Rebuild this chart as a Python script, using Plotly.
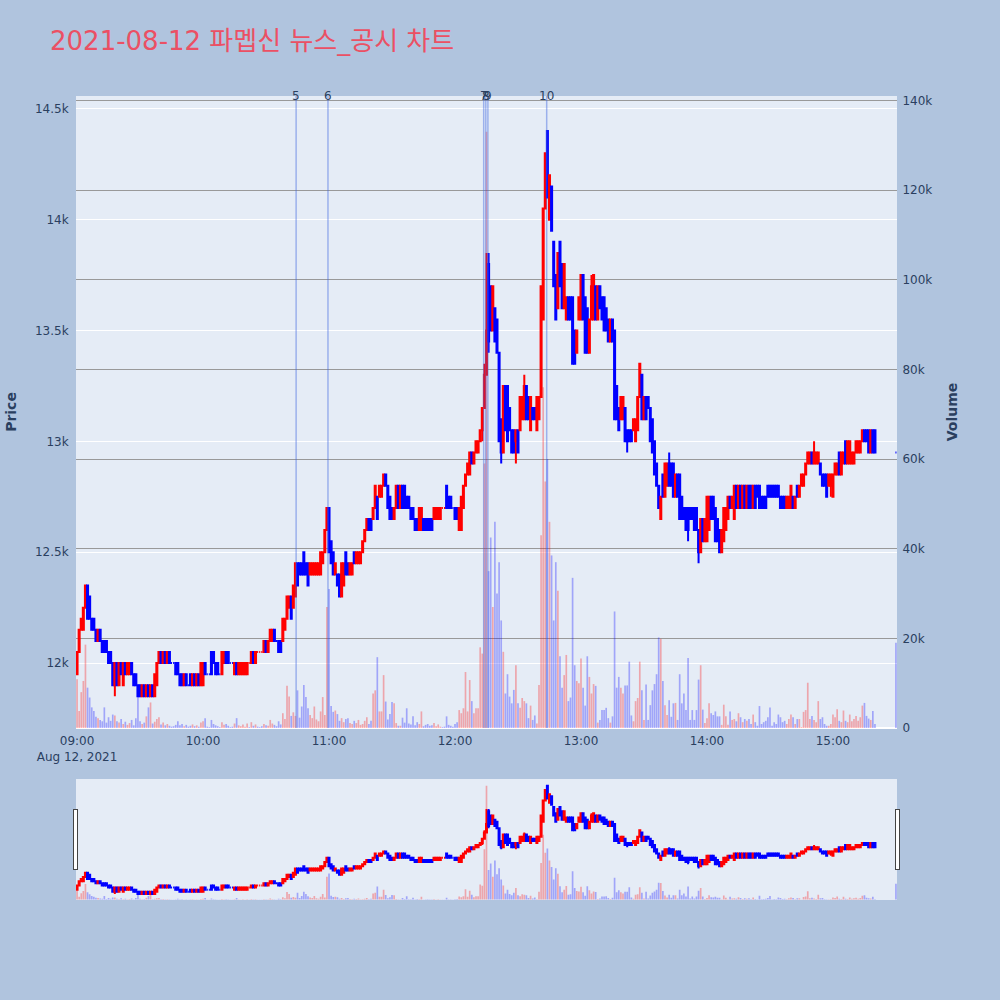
import pandas as pd
import plotly.graph_objects as go
from plotly.subplots import make_subplots

# minutes after 09:00 for each 1-minute candle (15:20-15:29 no trades, 15:30 closing auction)
minute_offsets = list(range(0, 381)) + [390]

open_ = [
    11950,12050,12150,12150,12250,12350,12300,12200,12200,12150,
    12100,12150,12100,12100,12100,12050,12050,12000,11900,12000,
    11900,12000,11900,12000,11950,11950,12000,11950,11950,11900,
    11900,11850,11900,11850,11900,11850,11900,11850,11900,12000,
    12050,12000,12050,12000,12050,12000,12000,12000,12000,11950,
    11950,11900,11950,11900,11950,11900,11950,11900,11950,11900,
    11900,12000,11950,11950,12050,12050,12000,12000,11950,11950,
    12000,12050,12050,12000,12000,11950,12000,11950,11950,11950,
    11950,11950,12000,12000,12050,12000,12050,12050,12050,12050,
    12100,12050,12100,12100,12150,12100,12100,12100,12100,12150,
    12200,12250,12300,12250,12300,12450,12450,12450,12500,12450,
    12450,12400,12400,12400,12400,12400,12400,12450,12500,12600,
    12700,12550,12500,12400,12400,12400,12300,12350,12500,12450,
    12400,12400,12500,12450,12450,12450,12500,12550,12600,12650,
    12650,12650,12700,12750,12750,12750,12800,12850,12800,12750,
    12700,12650,12700,12800,12700,12800,12800,12750,12750,12700,
    12700,12650,12650,12600,12600,12650,12650,12650,12650,12650,
    12650,12650,12650,12650,12700,12700,12800,12750,12750,12700,
    12700,12700,12600,12600,12700,12800,12850,12850,12950,12900,
    12950,12950,13000,13050,13150,13300,13800,13700,13500,13600,
    13550,13400,13100,12950,13250,13250,13150,13050,13050,13000,
    13050,13050,13100,13100,13250,13200,13050,13150,13150,13050,
    13100,13200,13550,14050,14400,14000,14150,13900,13750,13600,
    13900,13800,13600,13550,13650,13650,13650,13500,13400,13550,
    13550,13750,13650,13600,13400,13550,13550,13700,13550,13700,
    13650,13650,13600,13550,13450,13550,13500,13250,13150,13100,
    13100,13150,13050,13050,13050,13050,13000,13050,13200,13300,
    13100,13200,13200,13150,13100,13000,12900,12800,12650,12850,
    12750,12800,12900,12900,12900,12750,12850,12850,12750,12700,
    12700,12700,12700,12700,12700,12700,12600,12500,12650,12550,
    12550,12600,12750,12750,12700,12650,12600,12500,12550,12600,
    12650,12750,12700,12650,12800,12700,12800,12700,12800,12700,
    12800,12800,12700,12800,12800,12800,12750,12750,12750,12800,
    12800,12800,12800,12800,12800,12750,12750,12750,12700,12700,
    12700,12750,12700,12800,12750,12800,12800,12850,12900,12900,
    12950,12900,12900,12900,12900,12850,12850,12850,12800,12800,
    12750,12850,12850,12950,12850,12900,13000,12900,12900,12900,
    12900,12950,12950,12950,13000,13050,13050,13050,12950,13050,13050,
    12950,
]

high = [
    12050,12150,12200,12250,12350,12350,12300,12200,12200,12150,
    12150,12150,12100,12100,12100,12050,12050,12000,12000,12000,
    12000,12000,12000,12000,12000,12000,12000,11950,11950,11900,
    11900,11900,11900,11900,11900,11900,11900,11950,12000,12050,
    12050,12050,12050,12050,12050,12000,12000,12000,12000,11950,
    11950,11950,11950,11900,11950,11950,11950,11950,11950,12000,
    12000,12000,11950,11950,12050,12050,12000,12000,11950,12050,
    12050,12050,12050,12000,12000,12000,12000,12000,12000,12000,
    12000,12000,12000,12050,12050,12050,12050,12050,12050,12100,
    12100,12100,12150,12150,12150,12100,12100,12100,12200,12200,
    12300,12300,12300,12350,12450,12450,12450,12450,12500,12450,
    12450,12450,12450,12450,12450,12450,12500,12500,12600,12700,
    12700,12550,12500,12450,12400,12400,12450,12450,12500,12450,
    12450,12450,12500,12500,12500,12500,12550,12600,12650,12650,
    12650,12700,12800,12750,12800,12800,12850,12850,12800,12750,
    12700,12700,12800,12800,12800,12800,12800,12750,12750,12700,
    12700,12650,12650,12700,12700,12650,12650,12650,12650,12650,
    12700,12700,12700,12700,12700,12700,12800,12750,12750,12700,
    12700,12700,12700,12750,12800,12850,12900,12950,12950,12950,
    13000,13000,13050,13150,13350,13850,13850,13700,13700,13600,
    13550,13400,13100,13250,13250,13250,13150,13050,13050,13050,
    13050,13200,13200,13300,13250,13200,13200,13150,13150,13200,
    13200,13700,14050,14300,14400,14200,14150,13900,13750,13850,
    13900,13800,13800,13650,13650,13650,13650,13500,13500,13650,
    13750,13750,13650,13600,13550,13750,13750,13700,13700,13700,
    13650,13650,13600,13550,13550,13550,13500,13250,13150,13200,
    13200,13150,13050,13050,13050,13100,13100,13200,13350,13300,
    13200,13200,13200,13150,13100,13000,12900,12800,12750,12850,
    12900,12900,12950,12900,12900,12850,12850,12850,12750,12700,
    12700,12700,12700,12700,12700,12700,12600,12650,12650,12650,
    12750,12750,12750,12750,12700,12650,12600,12600,12700,12700,
    12750,12750,12750,12800,12800,12800,12800,12800,12800,12800,
    12800,12800,12800,12800,12800,12800,12750,12750,12750,12800,
    12800,12800,12800,12800,12800,12750,12750,12750,12750,12750,
    12800,12750,12750,12800,12800,12850,12850,12900,12950,12950,
    12950,13000,12950,12950,12900,12850,12850,12850,12850,12850,
    12850,12900,12900,12950,12950,12950,13000,13000,13000,12950,
    12950,13000,13000,13000,13050,13050,13050,13050,13050,13050,13050,
    12950,
]

low = [
    11950,12050,12150,12150,12250,12200,12200,12150,12150,12100,
    12100,12100,12050,12050,12050,12000,12000,11900,11850,11900,
    11900,11950,11900,11950,11950,11950,11950,11900,11900,11850,
    11850,11850,11850,11850,11850,11850,11850,11850,11900,12000,
    12000,12000,12000,12000,12000,12000,12000,11950,11950,11900,
    11900,11900,11900,11900,11900,11900,11900,11900,11900,11900,
    11900,11950,11950,11950,11950,12000,11950,11950,11950,11950,
    12000,12000,12000,12000,12000,11950,11950,11950,11950,11950,
    11950,11950,12000,12000,12000,12000,12050,12050,12050,12050,
    12050,12050,12100,12100,12100,12100,12050,12050,12100,12150,
    12200,12250,12200,12250,12300,12350,12400,12400,12400,12400,
    12350,12400,12400,12400,12400,12400,12400,12450,12500,12600,
    12500,12450,12400,12400,12350,12300,12300,12350,12400,12400,
    12400,12400,12450,12450,12450,12450,12500,12550,12600,12600,
    12600,12650,12700,12650,12750,12750,12800,12800,12700,12650,
    12650,12650,12700,12700,12700,12700,12700,12700,12700,12650,
    12650,12600,12600,12600,12600,12600,12600,12600,12600,12600,
    12650,12650,12650,12650,12700,12700,12700,12700,12700,12700,
    12650,12650,12600,12600,12700,12800,12850,12850,12900,12900,
    12950,12950,13000,13000,13150,13300,13400,13500,13500,13450,
    13400,13000,12900,12950,13050,13000,13050,12950,12950,12900,
    12950,13050,13100,13100,13100,13100,13050,13100,13100,13050,
    13100,13200,13550,14050,14100,14000,13950,13700,13550,13600,
    13700,13600,13600,13550,13550,13550,13350,13350,13400,13550,
    13550,13550,13400,13400,13400,13550,13550,13550,13550,13600,
    13550,13500,13500,13450,13450,13450,13100,13100,13050,13100,
    13100,13000,12950,13000,13000,13050,13000,13050,13200,13100,
    13100,13100,13150,13000,12950,12850,12800,12700,12650,12750,
    12750,12800,12800,12800,12750,12750,12750,12650,12650,12650,
    12600,12550,12650,12650,12600,12600,12450,12500,12550,12550,
    12550,12600,12650,12650,12550,12550,12500,12500,12550,12600,
    12650,12700,12700,12650,12700,12700,12700,12700,12700,12700,
    12700,12700,12700,12700,12750,12700,12700,12700,12700,12750,
    12750,12750,12750,12750,12750,12700,12700,12700,12700,12700,
    12700,12700,12700,12750,12750,12800,12800,12850,12900,12900,
    12900,12900,12900,12900,12850,12800,12800,12750,12800,12750,
    12750,12850,12850,12850,12850,12900,12900,12900,12900,12900,
    12900,12950,12950,12950,13000,13000,13000,12950,12950,12950,12950,
    12950,
]

close = [
    12050,12150,12200,12250,12350,12200,12200,12150,12150,12100,
    12150,12100,12050,12050,12050,12000,12000,11900,12000,11900,
    12000,11950,12000,11950,12000,12000,11950,11900,11900,11850,
    11850,11900,11850,11900,11850,11900,11850,11950,12000,12050,
    12000,12050,12000,12050,12000,12000,12000,11950,11950,11900,
    11900,11950,11900,11900,11900,11950,11900,11950,11900,12000,
    12000,11950,11950,11950,11950,12000,11950,11950,11950,12050,
    12050,12000,12000,12000,12000,12000,11950,12000,12000,12000,
    12000,12000,12000,12050,12000,12050,12050,12050,12050,12100,
    12050,12100,12150,12150,12100,12100,12050,12050,12200,12200,
    12300,12300,12200,12350,12450,12350,12400,12400,12400,12400,
    12350,12450,12450,12450,12450,12450,12500,12500,12600,12700,
    12500,12450,12400,12450,12350,12300,12450,12450,12400,12400,
    12450,12450,12450,12500,12500,12500,12550,12600,12650,12600,
    12600,12700,12800,12650,12800,12800,12850,12800,12700,12650,
    12650,12700,12800,12700,12800,12700,12700,12700,12700,12650,
    12650,12600,12600,12700,12700,12600,12600,12600,12600,12600,
    12700,12700,12700,12700,12700,12700,12700,12700,12700,12700,
    12650,12650,12700,12750,12800,12850,12900,12950,12900,12950,
    13000,13000,13050,13150,13300,13500,13450,13500,13700,13450,
    13400,13000,12950,13250,13050,13000,13050,12950,12950,13050,
    12950,13200,13200,13250,13100,13100,13200,13100,13100,13200,
    13200,13700,14050,14300,14100,14200,13950,13700,13550,13850,
    13700,13600,13800,13650,13550,13550,13350,13350,13500,13650,
    13750,13550,13400,13400,13550,13700,13750,13550,13700,13600,
    13550,13500,13500,13450,13550,13450,13100,13100,13050,13200,
    13200,13000,13000,13000,13000,13100,13100,13200,13350,13100,
    13200,13100,13150,13000,12950,12850,12800,12700,12750,12750,
    12900,12900,12800,12800,12750,12850,12750,12650,12650,12650,
    12600,12600,12650,12650,12600,12600,12500,12650,12550,12650,
    12750,12750,12650,12650,12550,12550,12500,12600,12700,12700,
    12750,12700,12750,12800,12700,12800,12700,12800,12700,12800,
    12700,12700,12800,12700,12750,12700,12700,12700,12700,12750,
    12750,12750,12750,12750,12750,12700,12700,12700,12750,12750,
    12800,12700,12750,12750,12800,12850,12850,12900,12950,12950,
    12900,12950,12950,12950,12850,12800,12800,12750,12850,12850,
    12850,12900,12900,12850,12950,12950,12900,13000,13000,12950,
    12950,13000,13000,13000,13050,13000,13000,12950,13050,12950,12950,
    12950,
]

volume = [
    10900,3800,8000,10500,18600,9000,6800,4600,3800,2500,
    2200,1800,1500,4600,1200,2400,1600,3000,2800,1500,
    1200,2000,900,1400,700,1100,1800,600,2200,8000,
    1500,900,1200,2600,4600,5700,1000,1400,2000,2400,
    800,1200,600,900,500,300,400,700,1500,600,
    900,400,700,300,500,800,400,600,300,1200,
    1500,2200,300,200,1800,900,600,400,200,1300,
    700,900,500,200,300,1000,2200,600,400,800,
    300,1000,200,1300,500,800,300,200,400,900,
    600,500,1800,1000,700,400,1500,800,3300,2000,
    9400,7000,2700,3500,2700,8400,2300,4800,9600,6900,
    4400,2900,2200,4800,1900,1500,3700,6900,2900,27000,
    31000,4900,3600,3900,3100,1600,2200,1300,2000,2200,
    1100,900,1600,1100,1800,700,900,1600,2400,900,
    1600,7700,8400,15800,3700,3700,11800,5900,1900,3100,
    5800,5500,1100,500,500,2300,1200,4400,1000,800,
    2600,600,1300,900,3700,400,700,900,500,600,
    1100,400,800,300,200,300,2600,700,500,300,
    900,1300,4000,3300,4400,12500,3700,10700,6000,3300,
    4400,4400,18000,16600,59000,133000,35000,42500,27000,46000,
    30000,37000,24000,17000,7700,12000,7000,5500,8500,14000,
    5500,4500,6700,6000,5500,2200,5000,1800,2800,1000,
    9600,43000,76000,55000,60000,46000,38500,24000,37000,30600,
    16000,9000,11800,16300,6000,6800,33500,14000,10500,10000,
    15500,9000,5000,16000,11400,7700,9800,9400,1200,1800,
    4000,4000,4500,2200,1200,2600,26000,9000,11400,9000,
    7700,9500,9500,14800,2800,1500,6000,6700,14800,8400,
    1800,9700,1800,5100,8400,9800,12000,20200,19900,10500,
    5100,2900,6200,2500,5500,5600,1800,12000,5500,7700,
    4000,15600,1800,4000,1800,4000,10800,14000,4100,1100,
    2200,5500,3300,2900,3700,2600,2600,700,5200,2600,
    700,3700,1800,2000,1500,3300,2400,1300,2000,1600,
    2000,900,3000,1300,500,4900,900,1300,1600,2400,
    4600,500,1300,900,3000,2400,1300,1600,900,2000,
    3000,2400,900,2000,2000,200,3600,4000,10100,2000,
    2700,1800,1300,6000,2000,2400,900,500,500,900,
    3000,2400,4200,1600,1300,3900,1600,1300,3000,1500,
    2000,2700,1600,2400,5000,5600,2700,2100,1800,3800,900,
    19000,
]

event_labels = ["5", "6", "7", "8", "9", "10"]
event_times = [
    "2021-08-12 10:44:20", "2021-08-12 10:59:30", "2021-08-12 12:13:40",
    "2021-08-12 12:14:40", "2021-08-12 12:15:40", "2021-08-12 12:43:40",
]

title_text = "2021-08-12 파멥신 뉴스_공시 차트"

times = pd.Timestamp("2021-08-12 09:00") + pd.to_timedelta(minute_offsets, unit="min")
vol_colors = ["rgba(255,0,0,0.3)" if c > o else "rgba(0,0,255,0.3)" for o, c in zip(open_, close)]

FONT = "DejaVu Sans, Noto Sans CJK KR, sans-serif"
CLEAR = "rgba(0,0,0,0)"

fig = make_subplots(specs=[[{"secondary_y": True}]])
fig.add_trace(go.Candlestick(
    x=times, open=open_, high=high, low=low, close=close, name="Price",
    increasing=dict(line=dict(color="red", width=2), fillcolor="red"),
    decreasing=dict(line=dict(color="blue", width=2), fillcolor="blue"),
    showlegend=False), secondary_y=False)
fig.add_trace(go.Bar(
    x=times, y=volume, name="Volume", marker=dict(color=vol_colors, line=dict(width=0)),
    showlegend=False), secondary_y=True)

for t, lab in zip(event_times, event_labels):
    fig.add_shape(type="line", xref="x", yref="paper", x0=t, x1=t, y0=0, y1=1,
                  line=dict(color="rgba(65,105,225,0.45)", width=1.5))
    fig.add_annotation(x=t, xref="x", y=1, yref="paper", text=lab, showarrow=False,
                       yanchor="middle", font=dict(family=FONT, size=12, color="#2a3f5f"))

fig.update_layout(
    width=1000, height=1000,
    paper_bgcolor="#B0C4DE", plot_bgcolor="#E5ECF6",
    font=dict(family=FONT, size=12, color="#2a3f5f"),
    title=dict(text=title_text, x=0.05, xanchor="left", y=0.959, yanchor="middle",
               font=dict(family=FONT, size=26, color="rgb(235,80,100)")),
    margin=dict(l=76, r=103, t=96, b=100),
    showlegend=False,
    bargap=0.2,
)
fig.update_xaxes(domain=[0, 1], showgrid=False, dtick=3600000, ticks="outside", ticklen=2,
                 tickcolor=CLEAR,
                 rangeslider=dict(visible=True, bgcolor="#E5ECF6", thickness=0.15))
fig.update_yaxes(title=dict(text="<b>Price</b>", font=dict(size=14)), range=[11707, 14558],
                 dtick=500, gridcolor="white", showgrid=True, automargin=False,
                 ticks="outside", ticklen=4, tickcolor=CLEAR, secondary_y=False)
fig.update_yaxes(title=dict(text="<b>Volume</b>", font=dict(size=14)), range=[0, 141000],
                 dtick=20000, gridcolor="#999999", showgrid=True, automargin=False,
                 ticks="outside", ticklen=2, tickcolor=CLEAR, secondary_y=True)

fig.write_html("out.html", config={"displayModeBar": False},
               post_script="document.body.style.margin='0';")
